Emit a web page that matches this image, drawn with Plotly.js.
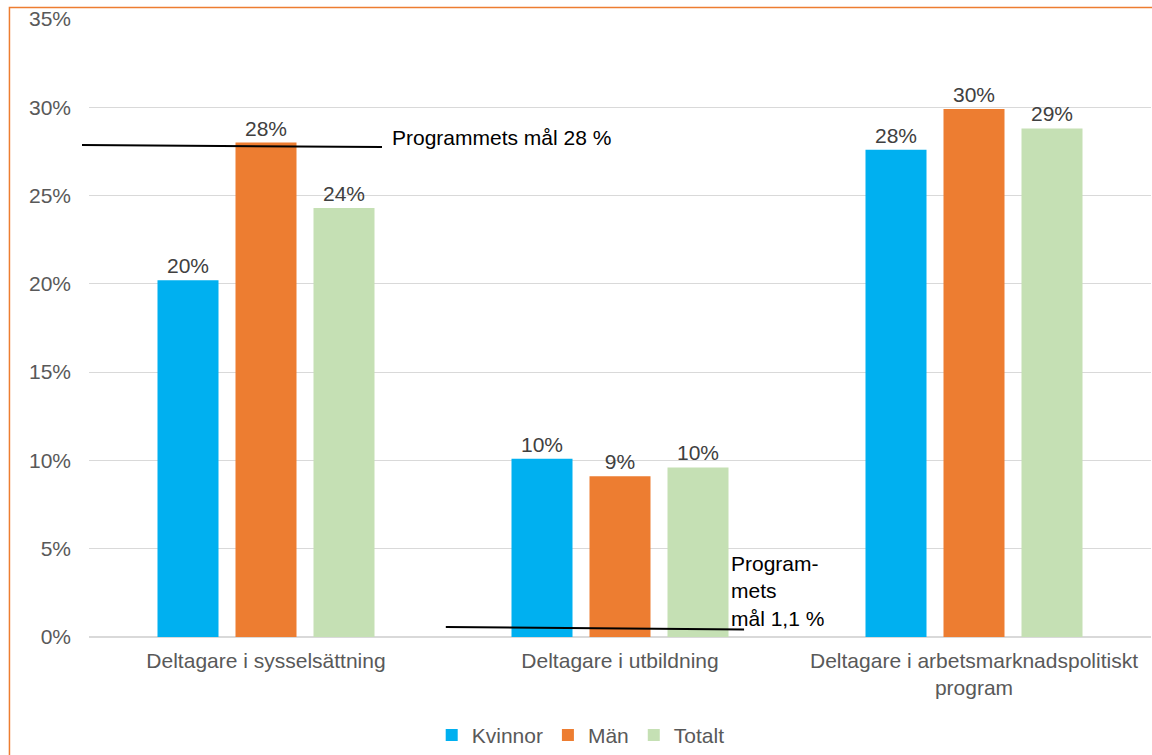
<!DOCTYPE html>
<html><head><meta charset="utf-8">
<script src="https://cdn.plot.ly/plotly-3.0.1.min.js"></script>
<style>html,body{margin:0;padding:0;background:#fff;}#chart{width:1152px;height:755px;}</style>
</head><body><div id="chart"></div>
<script>
const categories = ["Deltagare i sysselsättning", "Deltagare i utbildning", "Deltagare i arbetsmarknadspolitiskt<br>program"];
const kvinnor = [20.2, 10.1, 27.6];
const man = [28.0, 9.1, 29.9];
const totalt = [24.3, 9.6, 28.8];
const seriesNames = ["Kvinnor", "Män", "Totalt"];
const goalLabels = ["Programmets mål 28 %", "Program-<br>mets<br>mål 1,1 %"];

const colors = ["#00B0F0", "#ED7D31", "#C5E0B4"];
const font = "Liberation Sans, Arial, sans-serif";
const vals = [kvinnor, man, totalt];
const traces = vals.map((v, i) => ({
  type: "bar", name: seriesNames[i], x: categories, y: v,
  marker: {color: colors[i]},
  text: v.map(d => Math.round(d) + "%"), textposition: "outside",
  textfont: {color: "#404040", size: 21, family: font},
  constraintext: "none",
  cliponaxis: false, hoverinfo: "skip"
}));

const layout = {
  width: 1152, height: 755,
  margin: {l: 89, r: 1, t: 19, b: 118, autoexpand: false},
  paper_bgcolor: "#fff", plot_bgcolor: "#fff",
  font: {family: font, size: 21, color: "#595959"},
  barmode: "group", bargap: 0.339, bargroupgap: 0.218,
  xaxis: {showgrid: false, showline: false, ticks: "", tickangle: 0, automargin: false, ticklabelstandoff: 9,
          tickfont: {size: 21, color: "#595959"}, fixedrange: true},
  yaxis: {range: [0, 35], dtick: 5, ticksuffix: "%", showgrid: true, gridcolor: "#D9D9D9", gridwidth: 1,
          zeroline: true, zerolinecolor: "#D9D9D9", zerolinewidth: 1.5, showline: false, ticks: "", automargin: false,
          ticklabelstandoff: 17, tickfont: {size: 21, color: "#595959"}, fixedrange: true},
  showlegend: true,
  legend: {orientation: "h", xref: "paper", x: 0.463, xanchor: "center", y: -0.159, yanchor: "middle",
           font: {size: 21, color: "#595959"}, traceorder: "normal"},
  shapes: [
    {type: "line", xref: "paper", yref: "y", x0: -0.0066, x1: 0.2759, y0: 27.86, y1: 27.75, line: {color: "#000", width: 2}},
    {type: "line", xref: "paper", yref: "y", x0: 0.336, x1: 0.6168, y0: 0.57, y1: 0.42, line: {color: "#000", width: 2}},
    {type: "rect", xref: "paper", yref: "paper", x0: -0.0749, x1: 1.2, y0: -0.5, y1: 1.0186, line: {color: "#ED7D31", width: 1.5}, fillcolor: "rgba(0,0,0,0)"}
  ],
  annotations: [
    {xref: "paper", yref: "y", x: 0.2834, y: 28.3, xanchor: "left", yanchor: "middle", text: goalLabels[0], showarrow: false,
     font: {size: 21, color: "#000"}},
    {xref: "paper", yref: "y", x: 0.6026, y: 2.6, xanchor: "left", yanchor: "middle", align: "left", text: goalLabels[1], showarrow: false,
     font: {size: 21, color: "#000"}}
  ]
};
Plotly.newPlot("chart", traces, layout, {displayModeBar: false, staticPlot: true});
</script></body></html>
